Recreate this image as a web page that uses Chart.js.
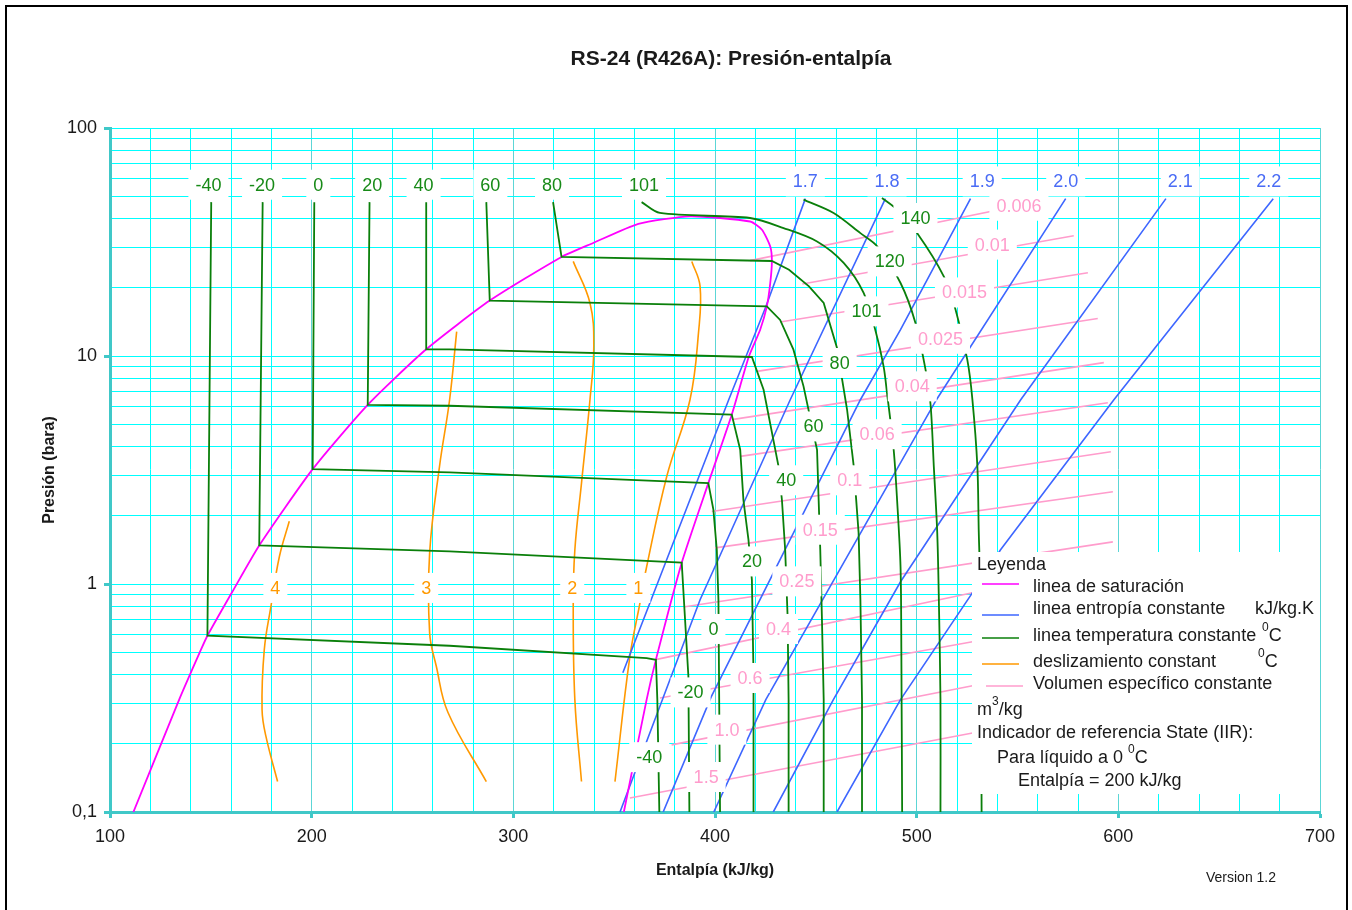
<!DOCTYPE html>
<html>
<head>
<meta charset="utf-8">
<script src="https://cdn.jsdelivr.net/npm/chart.js@4.4.1/dist/chart.umd.min.js"></script>
<style>
  html, body { margin: 0; padding: 0; background: #fff; }
</style>
</head>
<body>
<canvas id="ph" width="1352" height="910"></canvas>
<script>
// values: enthalpy h (kJ/kg) and pressure P (bara)
const xGrid = [100,120,140,160,180,200,220,240,260,280,300,320,340,360,380,400,420,440,460,480,500,520,540,560,580,600,620,640,660,680,700];
const yGrid = [0.1,0.2,0.3,0.4,0.5,0.6,0.7,0.8,0.9,1,2,3,4,5,6,7,8,9,10,20,30,40,50,60,70,80,90,100];
const yLabelVals = [0.1, 1, 10, 100];
const yLabelText = ['0,1', '1', '10', '100'];

// saturation dome
const satH = [111.6,134.3,145.1,148.3,160.8,174.0,200.5,227.8,256.8,288.3,323.9,339.6,362.0,387.6,417.4,423.3,427.4,428.2,427.4,425.7,422.4,416.8,408.3,396.7,383.5,370.7,366.1,354.8];
const satP = [0.1,0.311,0.515,0.593,0.929,1.476,3.19,6.11,10.7,17.5,27.2,31.3,38.0,41.0,38.9,35.8,30.2,26.0,20.9,16.5,13.04,9.95,5.53,2.77,1.24,0.466,0.311,0.1];

// isotherms
const tM40H = [150.2,148.3,268.4,366.1,370.7,371.4,372.4];
const tM40P = [47.3,0.593,0.536,0.473,0.465,0.311,0.1];
const tM20H = [175.7,174.0,268.4,383.5,386.8,387.3];
const tM20P = [47.3,1.476,1.39,1.24,0.394,0.1];
const t0H = [201.3,200.5,268.4,396.7,399.2,400.9,401.7,402.5];
const t0P = [47.3,3.19,3.09,2.77,2.12,1.41,0.853,0.1];
const t20H = [228.7,227.8,268.4,408.3,412.5,414.1,416.6,418.3,419.1,419.1];
const t20P = [47.3,6.11,6.05,5.53,3.88,2.33,1.56,1.04,0.40,0.1];
const t40H = [256.8,256.8,268.4,418.3,424.1,431.5,433.2,434.8,436.0,436.5,436.5];
const t40P = [47.3,10.7,10.7,9.9,7.11,3.28,2.33,1.41,0.721,0.311,0.1];
const t60H = [286.6,288.3,425.7,432.3,438.9,443.9,450.6,451.4,452.2,453.0,453.9,453.9];
const t60P = [47.3,17.5,16.5,14.4,10.66,7.36,3.88,2.33,1.41,0.721,0.311,0.1];
const t80H = [319.7,323.9,428.2,436.7,446.6,453.9,460.5,465.5,468.8,471.2,472.1,472.9,472.9];
const t80P = [47.3,27.2,26.1,23.9,20.2,17.1,10.84,5.81,3.28,1.68,0.853,0.311,0.1];
const t101H = [363.6,372.7,417.4,434.0,450.6,463.8,473.7,479.5,483.6,485.3,488.6,490.3,492.0,492.4,492.8];
const t101P = [47.3,42.4,40.3,36.4,31.8,25.6,18.9,13.0,9.0,6.88,3.88,2.33,1.19,0.515,0.1];
const t120H = [443.9,458.8,472.1,480.4,492.0,499.4,504.4,506.9,508.5,510.2,511.0,511.8,511.8];
const t120P = [48.5,42.4,34.6,30.3,20.9,13.96,8.71,6.11,3.28,1.68,0.853,0.311,0.1];
const t140H = [482.8,490.3,500.2,513.5,519.3,525.1,527.6,530.1,530.8,531.7,532.2];
const t140P = [49.3,43.8,34.6,22.3,15.96,9.64,6.49,3.28,1.68,0.853,0.1];

// isentropes (kJ/kg.K)
const s17H = [444.8,425.2,406.8,354.3];
const s17P = [49,16.45,6.43,0.408];
const s18H = [484.5,437.3,392.6,352.9];
const s18P = [49,6.43,0.853,0.1];
const s19H = [526.7,492.0,472.1,398.1,374.3];
const s19P = [49,13.04,6.43,0.320,0.1];
const s20H = [573.9,509.8,425.2,399.4];
const s20P = [49,6.43,0.311,0.1];
const s21H = [623.6,551.6,492.0,458.7,428.9];
const s21P = [49,6.43,1.023,0.311,0.1];
const s22H = [676.8,597.8,541.6,527.7,492.0,460.5];
const s22P = [49,6.43,1.414,0.916,0.311,0.1];

// constant glide lines
const g4H = [188.9,184.0,179.8,176.5,175.4,177.3,183.1];
const g4P = [1.883,1.32,0.798,0.515,0.281,0.215,0.136];
const g3H = [271.9,268.4,263.4,258.5,258.5,261.8,267.6,286.6];
const g3P = [12.8,6.43,3.28,1.37,0.609,0.436,0.273,0.136];
const g2H = [329.7,338.0,339.9,338.0,333.8,330.5,329.7,330.5,333.8];
const g2P = [26.0,17.08,11.0,6.43,2.77,1.41,0.80,0.311,0.136];
const g1H = [388.5,392.6,391.8,387.6,376.1,366.1,362.8,357.8,350.4];
const g1P = [26.0,20.2,12.6,6.43,2.97,1.19,0.826,0.481,0.136];

// constant specific volume (m3/kg)
const v0006H = [417.4,550.6], v0006P = [26.2,45.6];
const v001H = [443.3,577.9], v001P = [20.7,33.7];
const v0015H = [432.3,584.9], v0015P = [14.1,23.2];
const v0025H = [420.8,589.8], v0025P = [8.56,14.6];
const v004H = [408.3,592.8], v004P = [5.26,9.35];
const v006H = [412.5,594.8], v006P = [3.63,6.24];
const v01H = [398.4,596.3], v01P = [2.08,3.80];
const v015H = [400.0,597.3], v015P = [1.44,2.54];
const v025H = [385.1,597.3], v025P = [0.795,1.53];
const v04H = [371.1,527.7], v04P = [0.467,0.916];
const v06H = [372.7,527.7], v06P = [0.316,0.558];
const v10H = [378.5,527.7], v10P = [0.197,0.358];
const v15H = [357.8,527.7], v15P = [0.1152,0.222];

// in-plot labels (anchor in h, P)
const topTempText = ['-40','-20','0','20','40','60','80','101'];
const topTempH = [148.8,175.4,203.3,230.0,255.5,288.6,319.2,364.8];
const topTempP = 56.4;
const vapTempText = ['140','120','101','80','60','40','20','0','-20','-40'];
const vapTempH = [499.4,486.6,475.1,461.8,448.9,435.3,418.3,399.2,387.9,367.4];
const vapTempP = [40.3,26.0,15.7,9.32,4.91,2.85,1.256,0.635,0.3346,0.174];
const entText = ['1.7','1.8','1.9','2.0','2.1','2.2'];
const entH = [444.8,485.3,532.5,573.9,630.7,674.6];
const entP = 58.3;
const volText = ['0.006','0.01','0.015','0.025','0.04','0.06','0.1','0.15','0.25','0.4','0.6','1.0','1.5'];
const volH = [550.7,537.5,523.7,511.8,497.8,480.4,466.8,452.2,440.6,431.5,417.4,405.9,395.6];
const volP = [45.6,30.8,19.0,11.9,7.36,4.54,2.85,1.73,1.027,0.635,0.387,0.2297,0.1424];
const glideText = ['4','3','2','1'];
const glideH = [182.0,256.8,329.2,362.0];
const glideP = 0.961;

const FONT = '"Liberation Sans", Arial, Helvetica, sans-serif';
const GREEN = '#0a7f0a', GREEN_T = '#178a17';
const BLUE = '#3d66ff', BLUE_T = '#4a6cf5';
const PINK = '#ff9ccc', ORANGE = '#ff9900', MAGENTA = '#ff00ff';
const INK = '#1a1a1a';

Chart.defaults.font.family = FONT;

function pts(h, p) {
  return h.map((v, i) => ({ x: v, y: p[i] }));
}
function curve(h, p, color, width, tension) {
  return {
    data: pts(h, p),
    borderColor: color,
    borderWidth: width,
    pointRadius: 0,
    fill: false,
    tension: tension || 0
  };
}

// first dataset ends up on top
const datasets = [
  curve(tM40H, tM40P, GREEN, 1.8),
  curve(tM20H, tM20P, GREEN, 1.8),
  curve(t0H, t0P, GREEN, 1.8),
  curve(t20H, t20P, GREEN, 1.8),
  curve(t40H, t40P, GREEN, 1.8),
  curve(t60H, t60P, GREEN, 1.8),
  curve(t80H, t80P, GREEN, 1.8),
  curve(t101H, t101P, GREEN, 1.8, 0.3),
  curve(t120H, t120P, GREEN, 1.8, 0.3),
  curve(t140H, t140P, GREEN, 1.8, 0.3),
  curve(satH, satP, MAGENTA, 1.8, 0.2),
  curve(s17H, s17P, BLUE, 1.6),
  curve(s18H, s18P, BLUE, 1.6),
  curve(s19H, s19P, BLUE, 1.6),
  curve(s20H, s20P, BLUE, 1.6),
  curve(s21H, s21P, BLUE, 1.6),
  curve(s22H, s22P, BLUE, 1.6),
  curve(g4H, g4P, ORANGE, 1.6, 0.4),
  curve(g3H, g3P, ORANGE, 1.6, 0.4),
  curve(g2H, g2P, ORANGE, 1.6, 0.4),
  curve(g1H, g1P, ORANGE, 1.6, 0.4),
  curve(v0006H, v0006P, PINK, 1.6),
  curve(v001H, v001P, PINK, 1.6),
  curve(v0015H, v0015P, PINK, 1.6),
  curve(v0025H, v0025P, PINK, 1.6),
  curve(v004H, v004P, PINK, 1.6),
  curve(v006H, v006P, PINK, 1.6),
  curve(v01H, v01P, PINK, 1.6),
  curve(v015H, v015P, PINK, 1.6),
  curve(v025H, v025P, PINK, 1.6),
  curve(v04H, v04P, PINK, 1.6),
  curve(v06H, v06P, PINK, 1.6),
  curve(v10H, v10P, PINK, 1.6),
  curve(v15H, v15P, PINK, 1.6)
];

function supText(c, base, sup, x, y) {
  // draws base text then a small raised "sup"
  c.font = '18px ' + FONT;
  c.fillText(base, x, y);
  let w = c.measureText(base).width;
  c.font = '12px ' + FONT;
  c.fillText(sup, x + w, y - 8);
  w += c.measureText(sup).width;
  return x + w;
}

const annot = {
  id: 'annot',
  beforeDraw(chart) {
    const c = chart.ctx;
    c.save();
    c.fillStyle = '#fff';
    c.fillRect(0, 0, chart.width, chart.height);
    c.restore();
  },
  afterDatasetsDraw(chart) {
    const c = chart.ctx, xs = chart.scales.x, ys = chart.scales.y, a = chart.chartArea;
    c.save();
    c.font = '18px ' + FONT;
    c.textAlign = 'center';
    c.textBaseline = 'middle';
    const tag = (txt, h, p, color) => {
      const px = xs.getPixelForValue(h), py = ys.getPixelForValue(p);
      const w = c.measureText(txt).width + 14;
      c.fillStyle = '#fff';
      c.fillRect(px - w / 2, py - 15, w, 30);
      c.fillStyle = color;
      c.fillText(txt, px, py + 1);
    };
    topTempText.forEach((t, i) => tag(t, topTempH[i], topTempP, GREEN_T));
    vapTempText.forEach((t, i) => tag(t, vapTempH[i], vapTempP[i], GREEN_T));
    entText.forEach((t, i) => tag(t, entH[i], entP, BLUE_T));
    volText.forEach((t, i) => tag(t, volH[i], volP[i], PINK));
    glideText.forEach((t, i) => tag(t, glideH[i], glideP, ORANGE));

    // legend block
    const L = a.right - 348, T = a.bottom - 260;
    c.fillStyle = '#fff';
    c.fillRect(L, T, a.right - L, 242);
    c.textAlign = 'left';
    c.fillStyle = INK;
    c.fillText('Leyenda', L + 5, T + 13);
    const rows = [
      [MAGENTA, 32, 'linea de saturación', 35],
      [BLUE, 63, 'linea entropía constante', 57],
      [GREEN, 86, 'linea temperatura constante', 84],
      [ORANGE, 112, 'deslizamiento constant', 110],
      [PINK, 134, 'Volumen específico constante', 132]
    ];
    rows.forEach((r, i) => {
      c.strokeStyle = r[0];
      c.lineWidth = 1.6;
      c.beginPath();
      const x0 = i === 4 ? L + 14 : L + 10;
      c.moveTo(x0, T + r[1]);
      c.lineTo(x0 + 37, T + r[1]);
      c.stroke();
      c.fillStyle = INK;
      c.font = '18px ' + FONT;
      c.fillText(r[2], L + 61, T + r[3]);
    });
    c.fillText('kJ/kg.K', L + 283, T + 57);
    let nx = supText(c, '', '0', L + 290, T + 84);
    c.font = '18px ' + FONT; c.fillText('C', nx, T + 84);
    nx = supText(c, '', '0', L + 286, T + 110);
    c.font = '18px ' + FONT; c.fillText('C', nx, T + 110);
    nx = supText(c, 'm', '3', L + 5, T + 158);
    c.font = '18px ' + FONT; c.fillText('/kg', nx, T + 158);
    c.fillText('Indicador de referencia State (IIR):', L + 5, T + 181);
    nx = supText(c, 'Para líquido a 0 ', '0', L + 25, T + 206);
    c.font = '18px ' + FONT; c.fillText('C', nx, T + 206);
    c.fillText('Entalpía = 200 kJ/kg', L + 46, T + 229);
    c.restore();
  },
  afterDraw(chart) {
    const c = chart.ctx;
    c.save();
    c.fillStyle = INK;
    c.textAlign = 'center';
    c.textBaseline = 'middle';
    c.font = 'bold 21px ' + FONT;
    c.fillText('RS-24 (R426A): Presión-entalpía', 731, 59);
    c.font = '14px ' + FONT;
    c.fillText('Version 1.2', 1241, 878);
    c.strokeStyle = '#000';
    c.lineWidth = 2;
    c.strokeRect(6, 6, 1341, 940);
    c.restore();
  }
};

new Chart(
  document.getElementById('ph').getContext('2d'),
  {
    type: 'line',
    data: { datasets: datasets },
    options: {
      responsive: false,
      animation: false,
      events: [],
      layout: { padding: { top: 128, right: 32, bottom: 0, left: 0 } },
      plugins: {
        legend: { display: false },
        tooltip: { enabled: false },
        title: { display: false }
      },
      scales: {
        x: {
          type: 'linear',
          min: 100,
          max: 700,
          afterFit: s => { s.height = 98; },
          afterBuildTicks: s => { s.ticks = xGrid.map(v => ({ value: v })); },
          ticks: {
            autoSkip: false,
            maxRotation: 0,
            padding: 8,
            color: INK,
            font: { size: 18 },
            callback: v => (v % 100 === 0 ? String(v) : '')
          },
          grid: {
            color: ctx => (ctx.tick && ctx.tick.value % 100 === 0 ? '#5cd6d6' : '#00ffff'),
            lineWidth: 1,
            tickLength: 6,
            tickWidth: 3,
            tickColor: ctx => (ctx.tick && ctx.tick.value % 100 === 0 ? '#40c8c8' : 'rgba(0,0,0,0)')
          },
          border: { color: '#40c8c8', width: 3 },
          title: {
            display: true,
            text: 'Entalpía (kJ/kg)',
            color: INK,
            font: { size: 16, weight: 'bold' },
            padding: { top: 0, bottom: 30 }
          }
        },
        y: {
          type: 'logarithmic',
          min: 0.1,
          max: 100,
          afterFit: s => { s.width = 110; },
          afterBuildTicks: s => { s.ticks = yGrid.map(v => ({ value: v })); },
          ticks: {
            autoSkip: false,
            padding: 7,
            color: INK,
            font: { size: 18 },
            callback: (v, i) => {
              const k = yLabelVals.indexOf(yGrid[i]);
              return k >= 0 ? yLabelText[k] : '';
            }
          },
          grid: {
            color: '#00ffff',
            lineWidth: 1,
            tickLength: 6,
            tickWidth: 3,
            tickColor: ctx => (ctx.tick && yLabelVals.indexOf(ctx.tick.value) >= 0 ? '#40c8c8' : 'rgba(0,0,0,0)')
          },
          border: { color: '#40c8c8', width: 3 },
          title: {
            display: true,
            text: 'Presión (bara)',
            color: INK,
            font: { size: 16, weight: 'bold' },
            padding: { top: 40, bottom: 0 }
          }
        }
      }
    },
    plugins: [annot]
  }
);
</script>
</body>
</html>
